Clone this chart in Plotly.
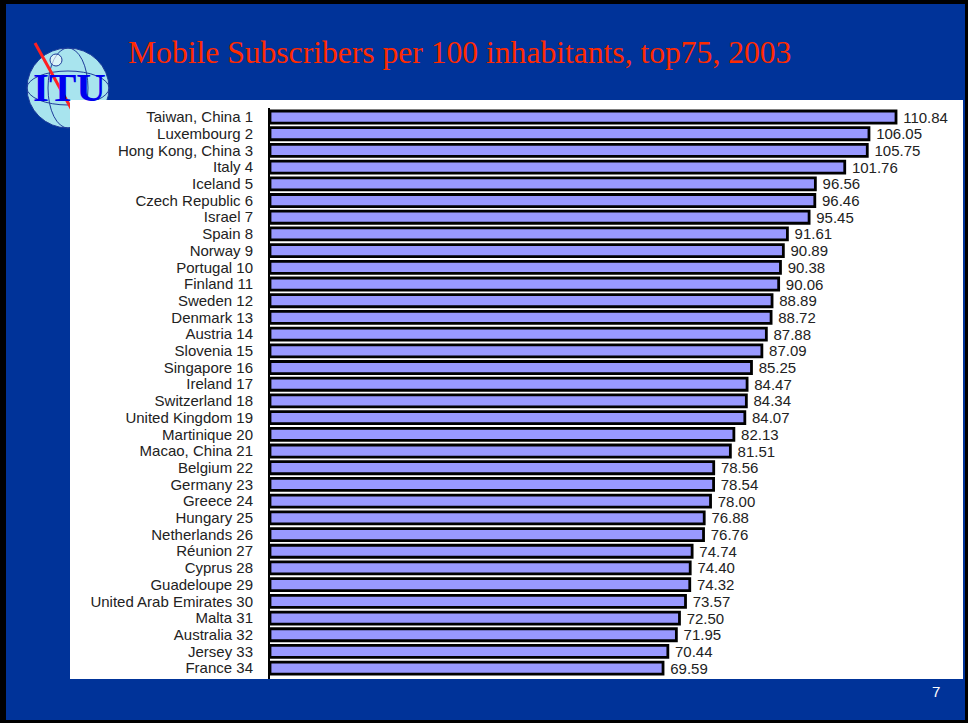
import plotly.graph_objects as go

# ---------------- data ----------------
countries = ["Taiwan, China", "Luxembourg", "Hong Kong, China", "Italy", "Iceland",
             "Czech Republic", "Israel", "Spain", "Norway", "Portugal", "Finland",
             "Sweden", "Denmark", "Austria", "Slovenia", "Singapore", "Ireland",
             "Switzerland", "United Kingdom", "Martinique", "Macao, China", "Belgium",
             "Germany", "Greece", "Hungary", "Netherlands", "Réunion", "Cyprus",
             "Guadeloupe", "United Arab Emirates", "Malta", "Australia", "Jersey", "France"]
ranks = list(range(1, 35))
subscribers = [110.84, 106.05, 105.75, 101.76, 96.56, 96.46, 95.45, 91.61, 90.89, 90.38,
               90.06, 88.89, 88.72, 87.88, 87.09, 85.25, 84.47, 84.34, 84.07, 82.13,
               81.51, 78.56, 78.54, 78.00, 76.88, 76.76, 74.74, 74.40, 74.32, 73.57,
               72.50, 71.95, 70.44, 69.59]
title_text = "Mobile Subscribers per 100 inhabitants, top75, 2003"
page_number = "7"

labels = [f"{c} {r}" for c, r in zip(countries, ranks)]

# ---------------- geometry helpers ----------------
W, H = 968, 723
ML, MR, MT, MB = 270, 5, 108, 44
PW, PH = W - ML - MR, H - MT - MB


def px(x):
    return (x - ML) / PW


def py(y):
    return 1 - (y - MT) / PH


BLUE = "#003399"
SANS = "Liberation Sans, Arial, sans-serif"
SERIF = "Liberation Serif, Times New Roman, serif"

fig = go.Figure()
fig.add_trace(go.Bar(
    x=subscribers, y=labels, orientation="h",
    width=0.72,
    marker=dict(color="#9999FF", line=dict(color="black", width=2.8)),
    texttemplate="\u00a0%{x:.2f}", textposition="outside",
    textfont=dict(family=SANS, size=15, color="#222222"),
    constraintext="none", cliponaxis=False,
    hoverinfo="skip",
))

shapes = []
# globe (logo) behind the panel
shapes.append(dict(type="circle", xref="paper", yref="paper",
                   x0=px(27), x1=px(109), y0=py(128), y1=py(48),
                   fillcolor="#A8E4EE", line=dict(color="#1E3C9A", width=1), layer="below"))
shapes.append(dict(type="circle", xref="paper", yref="paper",
                   x0=px(48), x1=px(88), y0=py(128), y1=py(48),
                   fillcolor="rgba(0,0,0,0)", line=dict(color="#1E3C9A", width=1), layer="below"))
shapes.append(dict(type="circle", xref="paper", yref="paper",
                   x0=px(27), x1=px(109), y0=py(105), y1=py(71),
                   fillcolor="rgba(0,0,0,0)", line=dict(color="#1E3C9A", width=1), layer="below"))
shapes.append(dict(type="circle", xref="paper", yref="paper",
                   x0=px(50), x1=px(62), y0=py(66), y1=py(54),
                   fillcolor="rgba(255,255,255,0.6)", line=dict(color="#1E3C9A", width=1), layer="below"))
shapes.append(dict(type="line", xref="paper", yref="paper",
                   x0=px(35), x1=px(72), y0=py(43), y1=py(110),
                   line=dict(color="#FF2020", width=3), layer="below"))
# white panel
shapes.append(dict(type="rect", xref="paper", yref="paper",
                   x0=px(70), x1=px(963), y0=py(679), y1=py(100),
                   fillcolor="white", line=dict(width=0), layer="below"))
# black slide border
for (x0, x1, y0, y1) in [(0, 6, 0, H), (965, W, 0, H), (0, W, 0, 4), (0, W, 720, H)]:
    shapes.append(dict(type="rect", xref="paper", yref="paper",
                       x0=px(x0), x1=px(x1), y0=py(y1), y1=py(y0),
                       fillcolor="black", line=dict(width=0), layer="above"))

annotations = [
    dict(text="ITU", xref="paper", yref="paper", x=px(69), y=py(87),
         xanchor="center", yanchor="middle", showarrow=False,
         font=dict(family=SERIF, size=41, color="#0000EE", weight="bold")),
    dict(text=title_text, xref="paper", yref="paper", x=px(126), y=py(53),
         xanchor="left", yanchor="middle", showarrow=False,
         font=dict(family=SERIF, size=31.6, color="#FF2A00")),
    dict(text=page_number, xref="paper", yref="paper", x=px(936), y=py(691),
         xanchor="center", yanchor="middle", showarrow=False,
         font=dict(family=SANS, size=15, color="white")),
]

fig.update_layout(
    width=W, height=H,
    margin=dict(l=ML, r=MR, t=MT, b=MB),
    paper_bgcolor=BLUE, plot_bgcolor="white",
    showlegend=False,
    shapes=shapes, annotations=annotations,
    xaxis=dict(range=[0, PW / 5.648], visible=False, showgrid=False, zeroline=False),
    yaxis=dict(type="category", range=[33.65, -0.54], autorange=False,
               tickmode="array", tickvals=labels, ticktext=labels,
               showline=True, linecolor="black", linewidth=2,
               showgrid=False, zeroline=False, ticks="",
               ticklabelstandoff=12,
               tickfont=dict(family=SANS, size=15, color="#222222")),
)

fig.write_html("out.html", config={"displayModeBar": False},
               post_script="document.body.style.margin='0';document.body.style.overflow='hidden';")
